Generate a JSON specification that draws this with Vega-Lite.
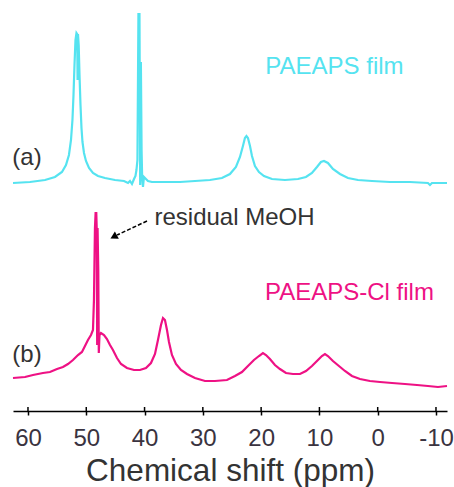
{
  "$schema": "https://vega.github.io/schema/vega-lite/v6.json",
  "width": 434,
  "height": 411,
  "padding": {"left": 13, "top": 0, "right": 7, "bottom": 76},
  "autosize": {"type": "none"},
  "background": "white",
  "config": {"view": {"stroke": null}, "font": "Liberation Sans"},
  "datasets": {
    "spectra": [
      {"s": "a", "ppm": 62.57, "h": 228}, {"s": "a", "ppm": 59.66, "h": 229}, {"s": "a", "ppm": 57.08, "h": 231}, {"s": "a", "ppm": 55.37, "h": 234},
      {"s": "a", "ppm": 54.17, "h": 239}, {"s": "a", "ppm": 53.48, "h": 246}, {"s": "a", "ppm": 52.97, "h": 256}, {"s": "a", "ppm": 52.62, "h": 271},
      {"s": "a", "ppm": 52.37, "h": 291}, {"s": "a", "ppm": 52.19, "h": 316}, {"s": "a", "ppm": 52.02, "h": 346}, {"s": "a", "ppm": 51.85, "h": 371},
      {"s": "a", "ppm": 51.68, "h": 378}, {"s": "a", "ppm": 51.56, "h": 377}, {"s": "a", "ppm": 51.49, "h": 331}, {"s": "a", "ppm": 51.42, "h": 377},
      {"s": "a", "ppm": 51.30, "h": 366}, {"s": "a", "ppm": 51.16, "h": 336}, {"s": "a", "ppm": 50.99, "h": 306}, {"s": "a", "ppm": 50.82, "h": 283},
      {"s": "a", "ppm": 50.65, "h": 269}, {"s": "a", "ppm": 50.39, "h": 258}, {"s": "a", "ppm": 50.05, "h": 250}, {"s": "a", "ppm": 49.53, "h": 243},
      {"s": "a", "ppm": 48.85, "h": 238}, {"s": "a", "ppm": 47.99, "h": 235}, {"s": "a", "ppm": 46.79, "h": 233}, {"s": "a", "ppm": 45.07, "h": 231},
      {"s": "a", "ppm": 43.53, "h": 230}, {"s": "a", "ppm": 42.84, "h": 228}, {"s": "a", "ppm": 42.50, "h": 230}, {"s": "a", "ppm": 42.16, "h": 227},
      {"s": "a", "ppm": 41.81, "h": 232}, {"s": "a", "ppm": 41.56, "h": 235}, {"s": "a", "ppm": 41.39, "h": 241}, {"s": "a", "ppm": 41.22, "h": 251},
      {"s": "a", "ppm": 41.05, "h": 397}, {"s": "a", "ppm": 40.87, "h": 397}, {"s": "a", "ppm": 40.75, "h": 226}, {"s": "a", "ppm": 40.63, "h": 349},
      {"s": "a", "ppm": 40.51, "h": 261}, {"s": "a", "ppm": 40.41, "h": 233}, {"s": "a", "ppm": 40.27, "h": 224}, {"s": "a", "ppm": 40.10, "h": 234},
      {"s": "a", "ppm": 39.76, "h": 232}, {"s": "a", "ppm": 39.41, "h": 230}, {"s": "a", "ppm": 38.73, "h": 229}, {"s": "a", "ppm": 36.50, "h": 229},
      {"s": "a", "ppm": 33.92, "h": 229}, {"s": "a", "ppm": 31.35, "h": 230}, {"s": "a", "ppm": 28.78, "h": 231}, {"s": "a", "ppm": 26.72, "h": 233},
      {"s": "a", "ppm": 25.35, "h": 237}, {"s": "a", "ppm": 24.32, "h": 244}, {"s": "a", "ppm": 23.63, "h": 254}, {"s": "a", "ppm": 23.12, "h": 265},
      {"s": "a", "ppm": 22.78, "h": 273}, {"s": "a", "ppm": 22.52, "h": 275}, {"s": "a", "ppm": 22.26, "h": 273}, {"s": "a", "ppm": 21.91, "h": 265},
      {"s": "a", "ppm": 21.57, "h": 255}, {"s": "a", "ppm": 21.06, "h": 245}, {"s": "a", "ppm": 20.37, "h": 239}, {"s": "a", "ppm": 19.51, "h": 235},
      {"s": "a", "ppm": 18.14, "h": 232}, {"s": "a", "ppm": 15.91, "h": 231}, {"s": "a", "ppm": 13.68, "h": 232}, {"s": "a", "ppm": 12.31, "h": 234},
      {"s": "a", "ppm": 11.28, "h": 238}, {"s": "a", "ppm": 10.42, "h": 244}, {"s": "a", "ppm": 9.74, "h": 249}, {"s": "a", "ppm": 9.22, "h": 250},
      {"s": "a", "ppm": 8.54, "h": 248}, {"s": "a", "ppm": 7.68, "h": 242}, {"s": "a", "ppm": 6.47, "h": 237}, {"s": "a", "ppm": 5.10, "h": 233},
      {"s": "a", "ppm": 3.38, "h": 231}, {"s": "a", "ppm": 0.98, "h": 230}, {"s": "a", "ppm": -2.11, "h": 229}, {"s": "a", "ppm": -5.53, "h": 229},
      {"s": "a", "ppm": -8.62, "h": 228}, {"s": "a", "ppm": -8.97, "h": 226}, {"s": "a", "ppm": -9.31, "h": 228}, {"s": "a", "ppm": -11.89, "h": 228},

      {"s": "b", "ppm": 62.57, "h": 33}, {"s": "b", "ppm": 60.51, "h": 34}, {"s": "b", "ppm": 59.14, "h": 36}, {"s": "b", "ppm": 57.43, "h": 38},
      {"s": "b", "ppm": 56.23, "h": 39}, {"s": "b", "ppm": 55.02, "h": 42}, {"s": "b", "ppm": 54.00, "h": 44}, {"s": "b", "ppm": 53.14, "h": 47},
      {"s": "b", "ppm": 52.28, "h": 51}, {"s": "b", "ppm": 51.42, "h": 56}, {"s": "b", "ppm": 50.74, "h": 59}, {"s": "b", "ppm": 50.22, "h": 65},
      {"s": "b", "ppm": 49.71, "h": 71}, {"s": "b", "ppm": 49.19, "h": 76}, {"s": "b", "ppm": 48.85, "h": 81}, {"s": "b", "ppm": 48.68, "h": 111},
      {"s": "b", "ppm": 48.51, "h": 183}, {"s": "b", "ppm": 48.40, "h": 198}, {"s": "b", "ppm": 48.28, "h": 198}, {"s": "b", "ppm": 48.20, "h": 181},
      {"s": "b", "ppm": 48.13, "h": 66}, {"s": "b", "ppm": 48.06, "h": 183}, {"s": "b", "ppm": 47.94, "h": 141}, {"s": "b", "ppm": 47.85, "h": 58},
      {"s": "b", "ppm": 47.73, "h": 76}, {"s": "b", "ppm": 47.48, "h": 78}, {"s": "b", "ppm": 46.96, "h": 76}, {"s": "b", "ppm": 46.45, "h": 72},
      {"s": "b", "ppm": 45.93, "h": 66}, {"s": "b", "ppm": 45.42, "h": 61}, {"s": "b", "ppm": 44.73, "h": 53}, {"s": "b", "ppm": 44.04, "h": 47},
      {"s": "b", "ppm": 43.02, "h": 43}, {"s": "b", "ppm": 41.81, "h": 41}, {"s": "b", "ppm": 40.79, "h": 41}, {"s": "b", "ppm": 39.76, "h": 43},
      {"s": "b", "ppm": 38.90, "h": 48}, {"s": "b", "ppm": 38.21, "h": 57}, {"s": "b", "ppm": 37.70, "h": 71}, {"s": "b", "ppm": 37.18, "h": 86},
      {"s": "b", "ppm": 36.84, "h": 93}, {"s": "b", "ppm": 36.50, "h": 91}, {"s": "b", "ppm": 36.15, "h": 81}, {"s": "b", "ppm": 35.81, "h": 69},
      {"s": "b", "ppm": 35.30, "h": 56}, {"s": "b", "ppm": 34.61, "h": 47}, {"s": "b", "ppm": 33.75, "h": 41}, {"s": "b", "ppm": 32.72, "h": 37},
      {"s": "b", "ppm": 31.35, "h": 33}, {"s": "b", "ppm": 29.63, "h": 30}, {"s": "b", "ppm": 27.92, "h": 30}, {"s": "b", "ppm": 25.86, "h": 31},
      {"s": "b", "ppm": 24.49, "h": 35}, {"s": "b", "ppm": 23.29, "h": 39}, {"s": "b", "ppm": 22.26, "h": 45}, {"s": "b", "ppm": 21.23, "h": 51},
      {"s": "b", "ppm": 20.37, "h": 55}, {"s": "b", "ppm": 19.69, "h": 58}, {"s": "b", "ppm": 19.17, "h": 56}, {"s": "b", "ppm": 18.49, "h": 52},
      {"s": "b", "ppm": 17.63, "h": 46}, {"s": "b", "ppm": 16.77, "h": 42}, {"s": "b", "ppm": 15.74, "h": 38}, {"s": "b", "ppm": 14.54, "h": 37},
      {"s": "b", "ppm": 13.33, "h": 37}, {"s": "b", "ppm": 12.31, "h": 40}, {"s": "b", "ppm": 11.28, "h": 45}, {"s": "b", "ppm": 10.25, "h": 51},
      {"s": "b", "ppm": 9.57, "h": 55}, {"s": "b", "ppm": 9.05, "h": 57}, {"s": "b", "ppm": 8.54, "h": 55}, {"s": "b", "ppm": 7.68, "h": 50},
      {"s": "b", "ppm": 6.65, "h": 45}, {"s": "b", "ppm": 5.62, "h": 40}, {"s": "b", "ppm": 4.42, "h": 35}, {"s": "b", "ppm": 3.04, "h": 32},
      {"s": "b", "ppm": 1.33, "h": 30}, {"s": "b", "ppm": -0.39, "h": 29}, {"s": "b", "ppm": -2.45, "h": 28}, {"s": "b", "ppm": -4.68, "h": 27},
      {"s": "b", "ppm": -6.74, "h": 26}, {"s": "b", "ppm": -8.62, "h": 25}, {"s": "b", "ppm": -10.34, "h": 24}, {"s": "b", "ppm": -11.89, "h": 25}
    ],
    "ticks": [
      {"ppm": 60, "h0": 0, "h1": 4}, {"ppm": 50, "h0": 0, "h1": 4}, {"ppm": 40, "h0": 0, "h1": 4}, {"ppm": 30, "h0": 0, "h1": 4},
      {"ppm": 20, "h0": 0, "h1": 4}, {"ppm": 10, "h0": 0, "h1": 4}, {"ppm": 0, "h0": 0, "h1": 4}, {"ppm": -10, "h0": 0, "h1": 4}
    ],
    "arrow": [
      {"x1": 39.58, "y1": 190, "x2": 44.7, "y2": 176, "hx": 45.3, "hy": 174.2}
    ],
    "labels": [
      {"text": "PAEAPS film", "ppm": 7.42, "h": 344, "k": "a"},
      {"text": "PAEAPS-Cl film", "ppm": 4.84, "h": 118, "k": "b"},
      {"text": "(a)", "ppm": 60.17, "h": 253, "k": "note"},
      {"text": "(b)", "ppm": 60.17, "h": 56, "k": "note"}
    ],
    "notes": [
      {"text": "residual MeOH", "ppm": 38.3, "h": 193, "k": "note"}
    ]
  },
  "layer": [
    {
      "data": {"name": "spectra"},
      "mark": {"type": "line", "strokeWidth": 2.2},
      "encoding": {
        "x": {"field": "ppm", "type": "quantitative",
              "scale": {"domain": [62.57, -11.89], "nice": false, "zero": false},
              "axis": {"values": [60, 50, 40, 30, 20, 10, 0, -10], "grid": false,
                       "labelExpr": "replace(datum.label, '\u2212', '-')", "labelOverlap": false,
                       "domainColor": "#000", "domainWidth": 1.5, "tickColor": "#000", "tickWidth": 1.5, "tickSize": 4,
                       "labelFontSize": 24, "labelColor": "#3a3340", "labelPadding": 11, "labelFont": "Liberation Sans",
                       "title": "Chemical shift (ppm)", "titleFontSize": 31.5, "titleFontWeight": "normal", "titleColor": "#333333",
                       "titleFont": "Liberation Sans", "titlePadding": 5}},
        "y": {"field": "h", "type": "quantitative", "scale": {"domain": [0, 411], "nice": false, "zero": false}, "axis": null},
        "color": {"field": "s", "type": "nominal", "scale": {"domain": ["a", "b", "note"], "range": ["#55E3F0", "#EE1184", "#333333"]}, "legend": null}
      }
    },
    {
      "data": {"name": "ticks"},
      "mark": {"type": "rule", "color": "#000", "strokeWidth": 1.5},
      "encoding": {
        "x": {"field": "ppm", "type": "quantitative"},
        "y": {"field": "h0", "type": "quantitative"},
        "y2": {"field": "h1"}
      }
    },
    {
      "data": {"name": "arrow"},
      "mark": {"type": "rule", "color": "#000", "strokeWidth": 1.5, "strokeDash": [4, 2]},
      "encoding": {
        "x": {"field": "x1", "type": "quantitative"},
        "x2": {"field": "x2"},
        "y": {"field": "y1", "type": "quantitative"},
        "y2": {"field": "y2"}
      }
    },
    {
      "data": {"name": "arrow"},
      "mark": {"type": "point", "shape": "triangle-up", "filled": true, "color": "#000", "size": 70, "angle": 242, "opacity": 1},
      "encoding": {
        "x": {"field": "hx", "type": "quantitative"},
        "y": {"field": "hy", "type": "quantitative"}
      }
    },
    {
      "data": {"name": "labels"},
      "mark": {"type": "text", "fontSize": 24, "font": "Liberation Sans", "align": "center", "baseline": "middle"},
      "encoding": {
        "x": {"field": "ppm", "type": "quantitative"},
        "y": {"field": "h", "type": "quantitative"},
        "text": {"field": "text"},
        "color": {"field": "k", "type": "nominal", "legend": null}
      }
    },
    {
      "data": {"name": "notes"},
      "mark": {"type": "text", "fontSize": 24, "font": "Liberation Sans", "align": "left", "baseline": "middle"},
      "encoding": {
        "x": {"field": "ppm", "type": "quantitative"},
        "y": {"field": "h", "type": "quantitative"},
        "text": {"field": "text"},
        "color": {"field": "k", "type": "nominal", "legend": null}
      }
    }
  ]
}
